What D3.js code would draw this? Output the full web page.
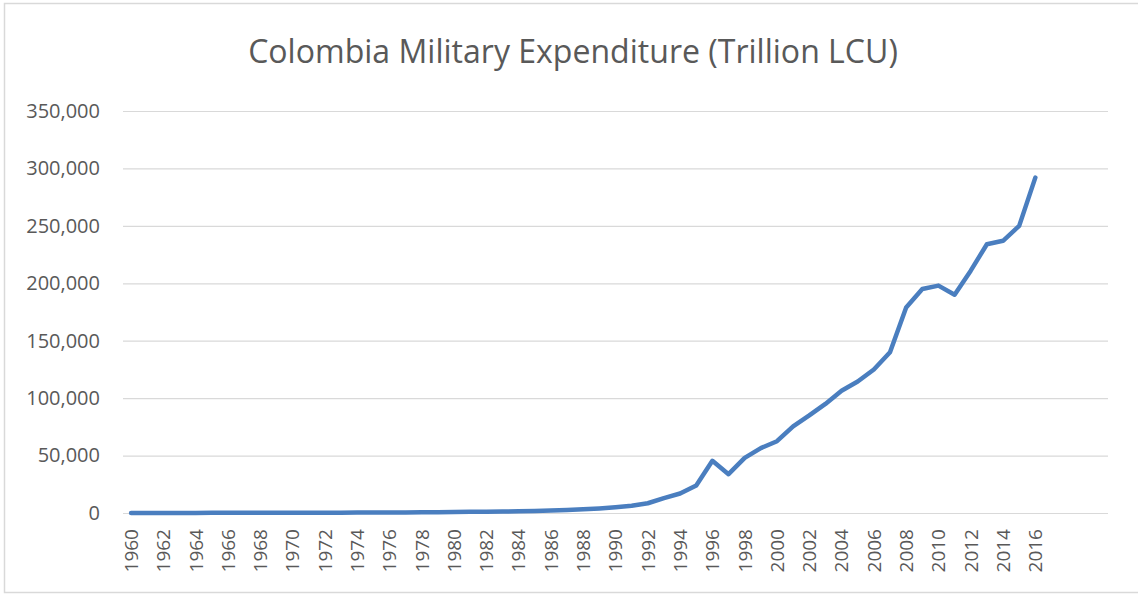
<!DOCTYPE html>
<html>
<head>
<meta charset="utf-8">
<script src="https://cdn.jsdelivr.net/npm/d3@7"></script>
<style>
  html, body { margin: 0; padding: 0; background: #fff; }
  svg { display: block; }
</style>
</head>
<body>
<div id="chart"></div>
<script>
// years that carry data, 1960-2016
const years = d3.range(1960, 2017);
// 4 empty category slots Excel left at the end of the axis
const emptySlots = ['e1', 'e2', 'e3', 'e4'];
const categories = [...years.map(String), ...emptySlots];

// military expenditure
const expenditure = [
    60, 70, 80, 90, 100, 110, 120, 140, 160, 180,
    200, 230, 260, 300, 350, 400, 450, 520, 600, 700,
    850, 1000, 1150, 1300, 1500, 1750, 2100, 2600, 3300, 4000,
    5000, 6300, 8500, 13000, 17000, 24000, 45400, 33800, 48000, 56500,
    62500, 75500, 85000, 95000, 106500, 114500, 125000, 140000, 179000, 195000,
    198000, 190000, 211000, 234000, 237000, 250000, 292000
];

const yTicks = [0, 50000, 100000, 150000, 200000, 250000, 300000, 350000];
const xTickLabels = years.filter(y => y % 2 === 0).map(String);

const title = 'Colombia Military Expenditure (Trillion LCU)';

const width = 1138;
const height = 594;
const plot = {left: 123, right: 1108, top: 111, bottom: 513};
const font = "'Open Sans', 'Noto Sans', sans-serif";
const textColor = '#595959';

const data = years.map((yr, i) => ({year: String(yr), value: expenditure[i]}));

const x = d3.scaleBand()
    .domain(categories)
    .range([plot.left, plot.right]);

const y = d3.scaleLinear()
    .domain([0, 350000])
    .range([plot.bottom, plot.top]);

const svg = d3.select('#chart').append('svg')
    .attr('width', width)
    .attr('height', height)
    .attr('viewBox', `0 0 ${width} ${height}`);

// chart area border
svg.append('rect')
    .attr('x', 4.5).attr('y', 3.5)
    .attr('width', 1140).attr('height', 589)
    .attr('fill', '#fff')
    .attr('stroke', '#d9d9d9')
    .attr('stroke-width', 1.5);

// title
const titleNode = svg.append('text')
    .attr('x', 573)
    .attr('y', 63)
    .attr('text-anchor', 'middle')
    .attr('font-family', font)
    .attr('font-size', 27)
    .attr('fill', textColor)
    .text(title);
const tw = titleNode.node().getComputedTextLength();
if (tw > 0) titleNode.attr('font-size', 27 * 650 / tw);

// y axis: labels + gridlines
const yAxis = g => g
    .attr('transform', `translate(${plot.left},0)`)
    .call(d3.axisLeft(y).tickValues(yTicks).tickFormat(d3.format(',')).tickSize(0).tickPadding(23))
    .call(g => g.select('.domain').remove())
    .call(g => g.selectAll('.tick text')
        .attr('font-family', font)
        .attr('font-size', 20)
        .attr('fill', textColor))
    .call(g => g.selectAll('.tick line').clone()
        .attr('x2', plot.right - plot.left)
        .attr('stroke', '#d9d9d9')
        .attr('stroke-width', 1.2));

svg.append('g').call(yAxis);

// x axis: rotated year labels every other year
const xAxis = g => g
    .attr('transform', `translate(0,${plot.bottom})`)
    .call(d3.axisBottom(x).tickValues(xTickLabels).tickSize(0).tickPadding(0))
    .call(g => g.select('.domain').remove())
    .call(g => g.selectAll('.tick text')
        .attr('font-family', font)
        .attr('font-size', 19)
        .attr('fill', textColor)
        .attr('transform', 'rotate(-90)')
        .attr('text-anchor', 'end')
        .attr('x', -16)
        .attr('y', 0)
        .attr('dy', '0.36em'));

svg.append('g').call(xAxis);

// series line
const line = d3.line()
    .x(d => x(d.year) + x.bandwidth() / 2)
    .y(d => y(d.value));

svg.append('path')
    .datum(data)
    .attr('d', line)
    .attr('fill', 'none')
    .attr('stroke', '#4a7ebf')
    .attr('stroke-width', 4.5)
    .attr('stroke-linejoin', 'round')
    .attr('stroke-linecap', 'round');
</script>
</body>
</html>
